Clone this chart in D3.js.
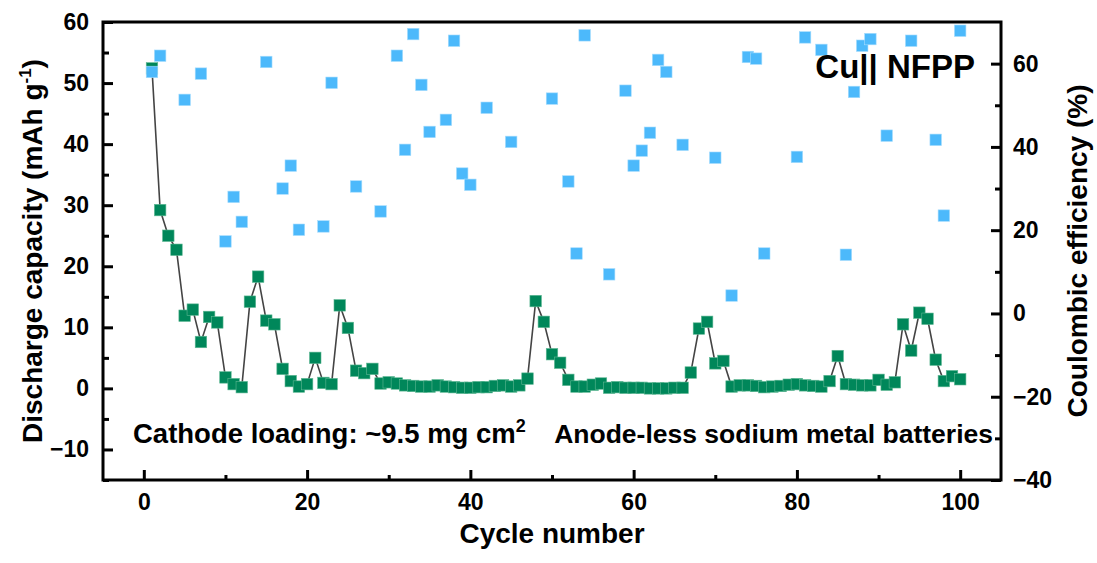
<!DOCTYPE html>
<html>
<head>
  <meta charset="utf-8">
  <script src="https://unpkg.com/d3@7/dist/d3.min.js"></script>
  <style>
    body { margin: 0; background: #fff; }
    text { font-family: "Liberation Sans", Arial, sans-serif; font-weight: bold; }
  </style>
</head>
<body>
<div id="chart"></div>
<script>

  var width = 1097, height = 563;

  // discharge capacity, cycles 1..100 (mAh g-1)
  var capCycles = d3.range(1, 101);
  var capValues = [52.4, 29.2, 25.0, 22.7, 11.9, 12.9, 7.6, 11.7, 10.8, 1.8,
                   0.7, 0.2, 14.2, 18.3, 11.1, 10.5, 3.2, 1.2, 0.3, 0.7,
                   5.0, 0.9, 0.7, 13.6, 9.9, 2.9, 2.5, 3.2, 0.8, 1.0,
                   0.8, 0.5, 0.4, 0.3, 0.3, 0.5, 0.3, 0.2, 0.1, 0.1,
                   0.2, 0.2, 0.4, 0.5, 0.3, 0.5, 1.6, 14.3, 10.9, 5.6,
                   4.2, 1.4, 0.3, 0.3, 0.6, 0.8, 0.1, 0.2, 0.1, 0.1,
                   0.1, 0.0, 0.0, 0.0, 0.1, 0.1, 2.6, 9.8, 10.9, 4.1,
                   4.5, 0.3, 0.5, 0.5, 0.4, 0.2, 0.3, 0.4, 0.6, 0.7,
                   0.5, 0.4, 0.3, 1.2, 5.3, 0.7, 0.6, 0.5, 0.5, 1.4,
                   0.6, 1.0, 10.5, 6.2, 12.4, 11.4, 4.7, 1.2, 2.0, 1.5];

  // coulombic efficiency (%), only the points that fall inside the frame
  var ceCycles = [1, 2, 5, 7, 10, 11, 12, 15, 17, 18, 19, 22, 23, 26, 29, 31, 32, 33, 34, 35,
                  37, 38, 39, 40, 42, 45, 50, 52, 53, 54, 57, 59, 60, 61, 62, 63, 64, 66, 70, 72,
                  74, 75, 76, 80, 81, 83, 86, 87, 88, 89, 91, 94, 97, 98, 100];
  var ceValues = [58.0, 61.9, 51.3, 57.6, 17.3, 28.0, 22.0, 60.4, 30.0, 35.5,
                  20.1, 20.9, 55.4, 30.5, 24.5, 61.9, 39.3, 67.1, 54.9, 43.6,
                  46.5, 65.5, 33.6, 30.9, 49.4, 41.2, 51.6, 31.7, 14.4, 66.8,
                  9.4, 53.5, 35.5, 39.1, 43.4, 60.9, 58.0, 40.5, 37.4, 4.3,
                  61.6, 61.2, 14.4, 37.6, 66.3, 63.3, 14.1, 53.2, 64.3, 65.9,
                  42.7, 65.5, 41.7, 23.5, 67.9];

  var xTicks = [0, 20, 40, 60, 80, 100];
  var xMinor = [10, 30, 50, 70, 90];
  var capTicks = [-10, 0, 10, 20, 30, 40, 50, 60];
  var capMinor = [-15, -5, 5, 15, 25, 35, 45, 55];
  var ceTicks = [-40, -20, 0, 20, 40, 60];
  var ceMinor = [-30, -10, 10, 30, 50];

  // plot frame (don't call it "top", window.top is read-only)
  var plotL = 103, plotR = 1001, plotT = 22, plotB = 480;

  var x = d3.scaleLinear().domain([-5, 105]).range([plotL, plotR]);
  var yCap = d3.scaleLinear().domain([-15, 60]).range([plotB, plotT]);
  var yCe = d3.scaleLinear().domain([-40, 70]).range([plotB, plotT]);

  var svg = d3.select("#chart").append("svg")
    .attr("width", width)
    .attr("height", height);

  function minus(d) { return d < 0 ? "\u2212" + Math.abs(d) : "" + d; }

  // axes - all ticks point into the frame
  function styleAxis(g) {
    g.select(".domain").remove();
    g.selectAll(".tick line").attr("stroke", "#000").attr("stroke-width", 3);
    g.selectAll(".tick text").attr("fill", "#000").style("font-size", "23px");
  }

  svg.append("g").attr("transform", "translate(0," + plotB + ")")
    .call(d3.axisBottom(x).tickValues(xTicks).tickSize(-10).tickPadding(14).tickFormat(minus))
    .call(styleAxis);
  svg.append("g").attr("transform", "translate(0," + plotB + ")")
    .call(d3.axisBottom(x).tickValues(xMinor).tickSize(-5).tickFormat(""))
    .call(styleAxis);

  svg.append("g").attr("transform", "translate(" + plotL + ",0)")
    .call(d3.axisLeft(yCap).tickValues(capTicks).tickSize(-10).tickPadding(14).tickFormat(minus))
    .call(styleAxis);
  svg.append("g").attr("transform", "translate(" + plotL + ",0)")
    .call(d3.axisLeft(yCap).tickValues(capMinor).tickSize(-6).tickFormat(""))
    .call(styleAxis);

  svg.append("g").attr("transform", "translate(" + plotR + ",0)")
    .call(d3.axisRight(yCe).tickValues(ceTicks).tickSize(-10).tickPadding(12).tickFormat(minus))
    .call(styleAxis);
  svg.append("g").attr("transform", "translate(" + plotR + ",0)")
    .call(d3.axisRight(yCe).tickValues(ceMinor).tickSize(-6).tickFormat(""))
    .call(styleAxis);

  // frame
  svg.append("rect")
    .attr("x", plotL).attr("y", plotT)
    .attr("width", plotR - plotL).attr("height", plotB - plotT)
    .attr("fill", "none").attr("stroke", "#000").attr("stroke-width", 3);

  // capacity line + markers
  var capData = capCycles.map(function(c, i) { return [c, capValues[i]]; });
  svg.append("path")
    .datum(capData)
    .attr("fill", "none")
    .attr("stroke", "#444")
    .attr("stroke-width", 1.6)
    .attr("d", d3.line().x(function(d) { return x(d[0]); }).y(function(d) { return yCap(d[1]); }));

  var ms = 11.5;
  svg.append("g").selectAll("rect")
    .data(capData).enter().append("rect")
    .attr("x", function(d) { return x(d[0]) - ms / 2; })
    .attr("y", function(d) { return yCap(d[1]) - ms / 2; })
    .attr("width", ms).attr("height", ms)
    .attr("fill", "#00875a")
    .attr("stroke", "#5fb894").attr("stroke-width", 0.6);

  // coulombic efficiency markers
  var ceData = ceCycles.map(function(c, i) { return [c, ceValues[i]]; });
  svg.append("g").selectAll("rect")
    .data(ceData).enter().append("rect")
    .attr("x", function(d) { return x(d[0]) - ms / 2; })
    .attr("y", function(d) { return yCe(d[1]) - ms / 2; })
    .attr("width", ms).attr("height", ms)
    .attr("fill", "#4cb9fb")
    .attr("stroke", "#a6dcfd").attr("stroke-width", 0.6);

  // titles
  svg.append("text")
    .attr("x", (plotL + plotR) / 2).attr("y", 543)
    .attr("text-anchor", "middle").style("font-size", "28px")
    .text("Cycle number");

  var yt = svg.append("text")
    .attr("transform", "translate(42,251) rotate(-90)")
    .attr("text-anchor", "middle").style("font-size", "28px");
  yt.append("tspan").text("Discharge capacity (mAh g");
  yt.append("tspan").attr("dy", -11).style("font-size", "17px").text("-1");
  yt.append("tspan").attr("dy", 11).text(")");

  svg.append("text")
    .attr("transform", "translate(1087,251) rotate(-90)")
    .attr("text-anchor", "middle").style("font-size", "28px")
    .text("Coulombic efficiency (%)");

  // annotations
  svg.append("text")
    .attr("x", 975).attr("y", 78)
    .attr("text-anchor", "end").style("font-size", "33px")
    .text("Cu|| NFPP");

  var ann = svg.append("text")
    .attr("x", 133).attr("y", 443).style("font-size", "27.5px");
  ann.append("tspan").text("Cathode loading: ~9.5 mg cm");
  ann.append("tspan").attr("dy", -11).style("font-size", "18px").text("2");

  svg.append("text")
    .attr("x", 993).attr("y", 443)
    .attr("text-anchor", "end").style("font-size", "26.5px")
    .text("Anode-less sodium metal batteries");

</script>
</body>
</html>
